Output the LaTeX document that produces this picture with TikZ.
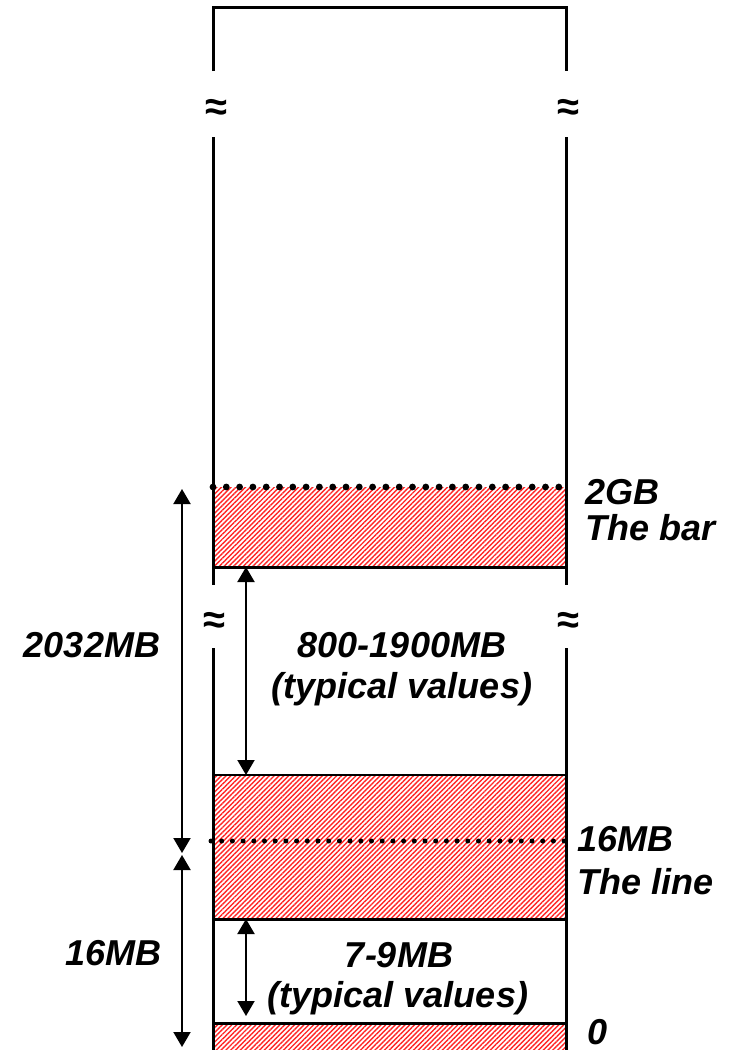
\documentclass[tikz,border=0pt]{standalone}
\usepackage{fontspec}
\setmainfont{Liberation Sans}
\usetikzlibrary{arrows.meta, positioning, patterns.meta}

\begin{document}
\begin{tikzpicture}[
    x=0.5pt, y=-0.5pt,
    wall/.style={line width=1.5pt},
    thinwall/.style={line width=1pt},
    hatch/.style={pattern={Lines[angle=45, distance=1.7pt, line width=0.7pt]}, pattern color=red!85},
    bigdots/.style={line width=3.4pt, line cap=round, dash pattern=on 0pt off 6.65pt},
    smalldots/.style={line width=2.5pt, line cap=round, dash pattern=on 0pt off 5.35pt},
    dimarrow/.style={line width=1pt, {Triangle[length=7.5pt, width=8.5pt]}-{Triangle[length=7.5pt, width=8.5pt]}},
    lbl/.style={font=\fontsize{18}{20}\selectfont\bfseries\itshape, inner sep=0pt},
    brk/.style={font=\fontsize{20}{20}\selectfont\bfseries, inner sep=0pt}
]
    \useasboundingbox (0,0) rectangle (731,1050);

    % reserved areas
    \fill[hatch] (213,487) rectangle (566,567);
    \fill[hatch] (213,775) rectangle (566,919);
    \fill[hatch] (213,1023) rectangle (566,1050);

    % memory column with breaks
    \draw[wall] (213,71) -- (213,7) -- (566,7) -- (566,71);
    \draw[wall] (213,137) -- (213,585);
    \draw[wall] (566,137) -- (566,585);
    \draw[wall] (213,648) -- (213,1050);
    \draw[wall] (566,648) -- (566,1050);
    \node[brk] (brk1) at (216,110) {≈};
    \node[brk] (brk2) at (568,110) {≈};
    \node[brk] (brk3) at (214,623) {≈};
    \node[brk] (brk4) at (568,623) {≈};

    % area borders
    \draw[wall] (213,567) -- (566,567);
    \draw[thinwall] (213,775) -- (566,775);
    \draw[wall] (213,919) -- (566,919);
    \draw[wall] (213,1023) -- (566,1023);
    \draw[bigdots] (213,487) -- (566,487);
    \draw[smalldots] (211,841) -- (566,841);

    % right side marks
    \node[lbl, anchor=base west] (gb) at (585,504) {2GB};
    \node[lbl, anchor=base west] (bar) at (585,540) {The bar};
    \node[lbl, anchor=base west] (mb16) at (577,851) {16MB};
    \node[lbl, anchor=base west] (line) at (577,894) {The line};
    \node[lbl, anchor=base west] (zero) at (587,1044) {0};

    % dimensions
    \coordinate (top2g) at (182,489);
    \coordinate (mid16) at (182,853);
    \coordinate (low16) at (182,855);
    \coordinate (bot0) at (182,1047);
    \coordinate (gapa) at (246,567);
    \coordinate (gapb) at (246,775);
    \coordinate (gapc) at (246,919);
    \coordinate (gapd) at (246,1016);
    \draw[dimarrow] (top2g) -- (mid16);
    \draw[dimarrow] (low16) -- (bot0);
    \draw[dimarrow] (gapa) -- (gapb);
    \draw[dimarrow] (gapc) -- (gapd);

    \node[lbl, anchor=base] (total) at (92,657) {2032MB};
    \node[lbl, anchor=base east] (size16) at (162,965) {16MB};
    \node[lbl, anchor=base] (gap1) at (402,657) {800-1900MB};
    \node[lbl, anchor=base] (gap1b) at (402,698) {(typical values)};
    \node[lbl, anchor=base] (gap2) at (399,967) {7-9MB};
    \node[lbl, anchor=base] (gap2b) at (398,1007) {(typical values)};
\end{tikzpicture}
\end{document}
